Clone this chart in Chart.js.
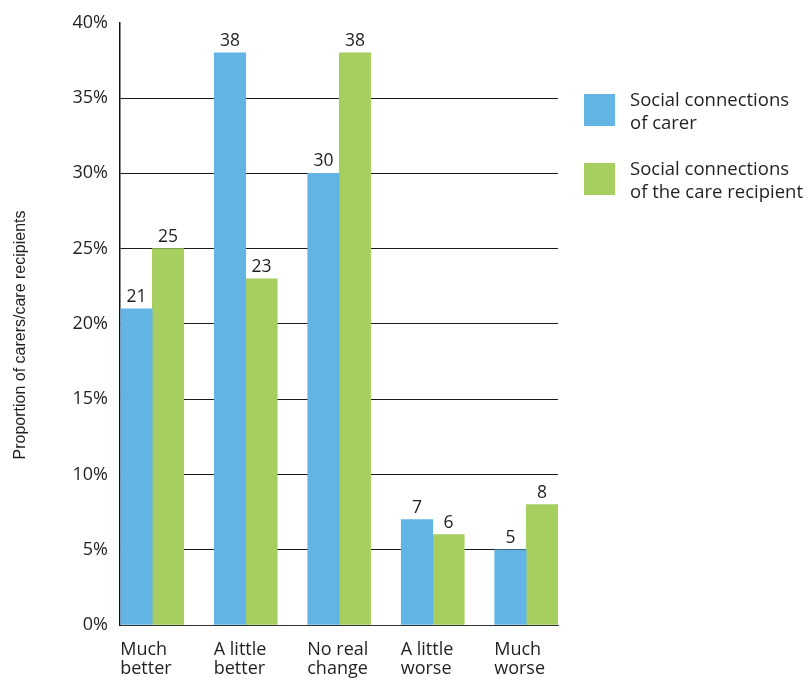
<!DOCTYPE html>
<html>
<head>
<meta charset="utf-8">
<script src="https://cdn.jsdelivr.net/npm/chart.js@4.4.1/dist/chart.umd.min.js"></script>
<style>
  html, body { margin: 0; padding: 0; background: #fff; }
  #wrap { width: 811px; height: 680px; position: relative; }
</style>
</head>
<body>
<div id="wrap"><canvas id="bar-chart"></canvas></div>
<script>
const categories = [
  ['Much', 'better'],
  ['A little', 'better'],
  ['No real', 'change'],
  ['A little', 'worse'],
  ['Much', 'worse'],
]
const carerValues = [21, 38, 30, 7, 5]
const recipientValues = [25, 23, 38, 6, 8]
const seriesLabels = [
  ['Social connections', 'of carer'],
  ['Social connections', 'of the care recipient'],
]
const seriesColors = ['#62b4e4', '#a6cf5f']
const yTicks = [0, 5, 10, 15, 20, 25, 30, 35, 40]

const textColor = '#231f20'
const fontFamily = '"Open Sans", Lato, sans-serif'

const toPoints = (values) => values.map((v, i) => ({ x: i, y: v }))

// numbers above each bar
const valueLabels = {
  id: 'valueLabels',
  afterDraw (chart) {
    const ctx = chart.ctx
    ctx.save()
    ctx.font = '17.5px ' + fontFamily
    ctx.fillStyle = textColor
    ctx.textAlign = 'center'
    ctx.textBaseline = 'alphabetic'
    chart.data.datasets.forEach((ds, di) => {
      chart.getDatasetMeta(di).data.forEach((bar, i) => {
        ctx.fillText(String(ds.data[i].y), bar.x, bar.y - 7)
      })
    })
    ctx.restore()
  },
}

// legend with two-line labels and the rotated axis title
const sideLegend = {
  id: 'sideLegend',
  afterDraw (chart) {
    const ctx = chart.ctx
    ctx.save()
    ctx.font = '18.5px ' + fontFamily
    ctx.textBaseline = 'alphabetic'
    ctx.textAlign = 'left'
    const boxX = 584
    const firstTop = 94
    const step = 69
    seriesLabels.forEach((lines, i) => {
      const top = firstTop + i * step
      ctx.fillStyle = seriesColors[i]
      ctx.fillRect(boxX, top, 31, 32)
      ctx.fillStyle = textColor
      lines.forEach((line, j) => {
        ctx.fillText(line, 630, top + 11.5 + j * 23)
      })
    })

    ctx.translate(25, 335)
    ctx.rotate(-Math.PI / 2)
    ctx.font = '16px "Liberation Sans", Arial, sans-serif'
    ctx.textAlign = 'center'
    ctx.fillText('Proportion of carers/care recipients', 0, 0)
    ctx.restore()
  },
}

const barChartConfig = {
  type: 'bar',
  data: {
    datasets: [
      {
        label: seriesLabels[0].join(' '),
        data: toPoints(carerValues),
        backgroundColor: seriesColors[0],
        borderWidth: 0,
        barThickness: 31.5,
      },
      {
        label: seriesLabels[1].join(' '),
        data: toPoints(recipientValues),
        backgroundColor: seriesColors[1],
        borderWidth: 0,
        barThickness: 31.5,
      },
    ],
  },
  options: {
    responsive: true,
    maintainAspectRatio: false,
    animation: false,
    layout: {
      padding: { top: 20, right: 253, bottom: 0, left: 0 },
    },
    plugins: {
      legend: { display: false },
      tooltip: { enabled: false },
    },
    scales: {
      x: {
        type: 'linear',
        offset: false,
        min: -0.345,
        max: 4.34,
        z: 1,
        afterFit (scale) { scale.height = 55 },
        grid: { display: false, drawTicks: false, offset: false },
        border: { color: '#333', width: 1 },
        ticks: {
          stepSize: 1,
          includeBounds: false,
          autoSkip: false,
          maxRotation: 0,
          align: 'start',
          labelOffset: -32,
          padding: 15,
          color: textColor,
          font: { family: fontFamily, size: 18, lineHeight: 1.08 },
          callback: (value) => categories[value] || '',
        },
      },
      y: {
        min: 0,
        max: 40,
        z: 1,
        afterFit (scale) { scale.width = 120 },
        afterBuildTicks (scale) { scale.ticks = yTicks.map((v) => ({ value: v })) },
        grid: {
          drawTicks: false,
          lineWidth: 1,
          color: (c) => (c.tick.value === 40 || c.tick.value === 0) ? 'rgba(0,0,0,0)' : '#1a1a1a',
        },
        border: { color: '#111', width: 1.5 },
        ticks: {
          padding: 12,
          color: textColor,
          font: { family: fontFamily, size: 18 },
          callback: (value) => value + '%',
        },
      },
    },
  },
  plugins: [valueLabels, sideLegend],
}

const barChartCanvas = document.getElementById('bar-chart').getContext('2d')
const barChart = new Chart(barChartCanvas, barChartConfig)
</script>
</body>
</html>
